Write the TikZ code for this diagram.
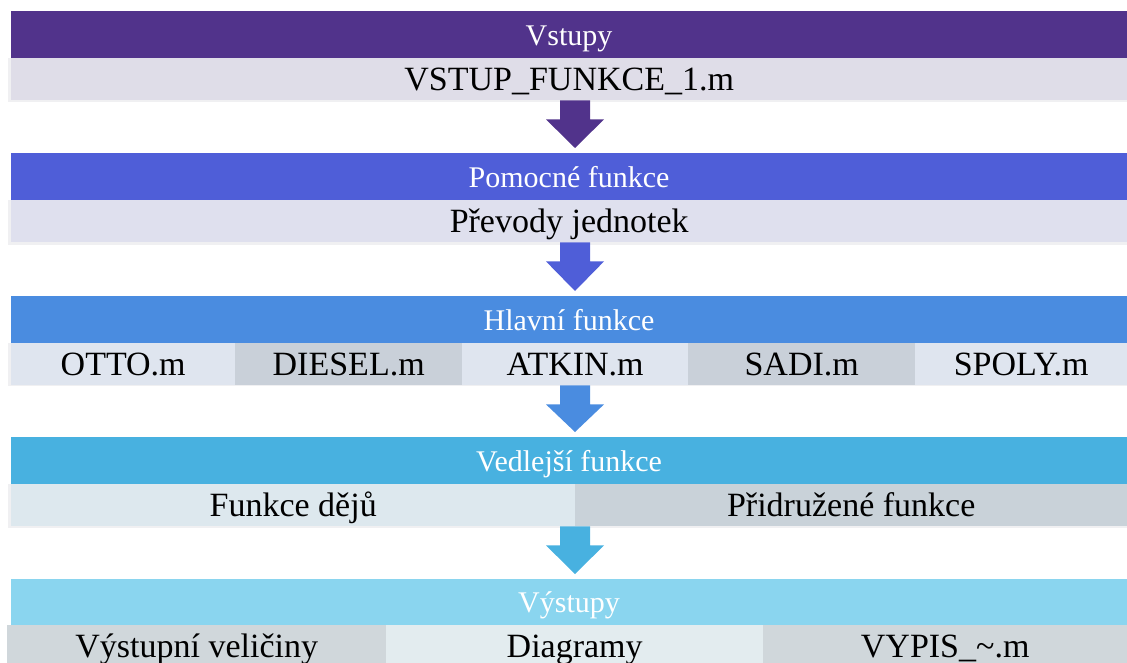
\documentclass[tikz,border=0pt]{standalone}
\usepackage{fontspec}
\setmainfont{Liberation Serif}
\usetikzlibrary{calc}
\definecolor{hA}{HTML}{51338B}
\definecolor{sA}{HTML}{DFDDE8}
\definecolor{hB}{HTML}{4F5ED8}
\definecolor{sB}{HTML}{DFE0EE}
\definecolor{hC}{HTML}{4A8CE0}
\definecolor{lC}{HTML}{DFE5EF}
\definecolor{gC}{HTML}{C9D0D9}
\definecolor{hD}{HTML}{48B1E0}
\definecolor{lD}{HTML}{DDE8EE}
\definecolor{gD}{HTML}{C9D2D9}
\definecolor{hE}{HTML}{8AD5EF}
\definecolor{gE}{HTML}{D0D7DB}
\definecolor{lE}{HTML}{E3ECEF}
\definecolor{bord}{HTML}{F0F0F2}
\newcommand\blockarrow[3]{%
  \fill[#3] let \p1=(#1.south),\p2=(#2.north) in
    (560,\y1) -- (590,\y1) -- (590,\y1-19pt) -- (604,\y1-19pt) -- (575,\y2+5pt)
    -- (546,\y1-19pt) -- (560,\y1-19pt) -- cycle;}
\begin{document}
\begin{tikzpicture}[x=1pt,y=-1pt,
  hdr/.style={anchor=north west,inner sep=0,minimum height=47pt,minimum width=1116.3pt,
    text height=22pt,text depth=1pt,
    text=white,font=\fontsize{30}{36}\selectfont},
  cell/.style={anchor=north west,inner sep=0,minimum height=42pt,
    text height=24pt,text depth=1pt,
    font=\fontsize{34}{40}\selectfont},
]
\useasboundingbox (0,0) rectangle (1127,663);
% band 1
\node[hdr,fill=hA] (h1) at (10.7,11) {Vstupy};
\fill[bord] (8,58) rectangle (1127,102);
\node[cell,fill=sA,minimum width=1116pt] (s1) at (11,58) {VSTUP\_FUNKCE\_1.m};
% band 2
\node[hdr,fill=hB] (h2) at (10.7,153) {Pomocné funkce};
\fill[bord] (8,200) rectangle (1127,245);
\node[cell,fill=sB,minimum width=1116pt] (s2) at (11,200) {Převody jednotek};
% band 3
\node[hdr,fill=hC] (h3) at (10.7,296) {Hlavní funkce};
\fill[bord] (8,343) rectangle (1127,386);
\node[cell,fill=lC,minimum width=224pt] (c31) at (11,343) {OTTO.m};
\node[cell,fill=gC,minimum width=227pt] (c32) at (235,343) {DIESEL.m};
\node[cell,fill=lC,minimum width=226pt] (c33) at (462,343) {ATKIN.m};
\node[cell,fill=gC,minimum width=227pt] (c34) at (688,343) {SADI.m};
\node[cell,fill=lC,minimum width=212pt] (c35) at (915,343) {SPOLY.m};
% band 4
\node[hdr,fill=hD] (h4) at (10.7,437) {Vedlejší funkce};
\fill[bord] (8,484) rectangle (1127,528);
\node[cell,fill=lD,minimum width=564pt] (c41) at (11,484) {Funkce dějů};
\node[cell,fill=gD,minimum width=552pt] (c42) at (575,484) {Přidružené funkce};
% band 5
\node[hdr,fill=hE,minimum height=46pt] (h5) at (10.7,579) {Výstupy};
\node[cell,fill=gE,minimum width=379pt] (c51) at (7,625) {Výstupní veličiny};
\node[cell,fill=lE,minimum width=377pt] (c52) at (386,625) {Diagramy};
\node[cell,fill=gE,minimum width=364pt] (c53) at (763,625) {VYPIS\_\textasciitilde.m};
% arrows
\blockarrow{s1}{h2}{hA}
\blockarrow{s2}{h3}{hB}
\blockarrow{c33}{h4}{hC}
\blockarrow{c41}{h5}{hD}
\end{tikzpicture}
\end{document}
